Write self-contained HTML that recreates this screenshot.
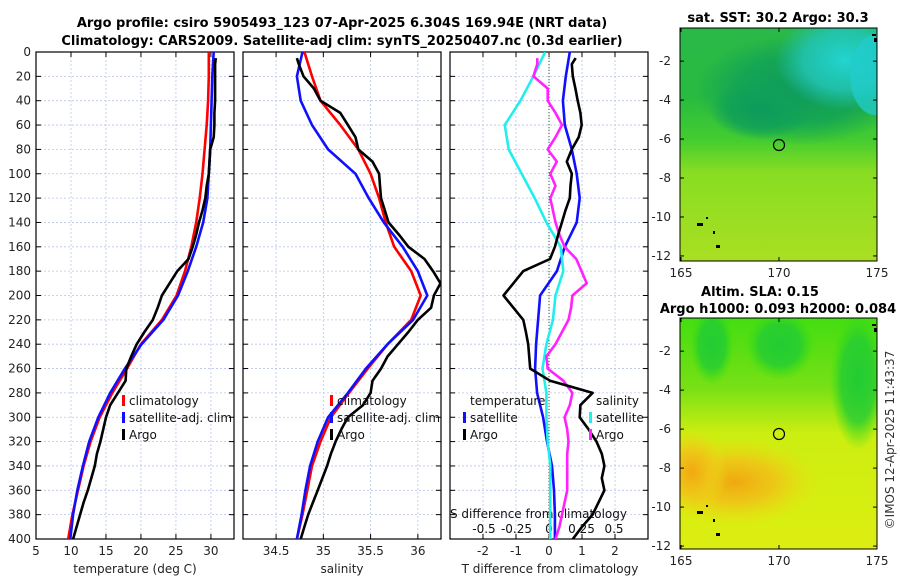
<!DOCTYPE html>
<html><head><meta charset="utf-8">
<style>
html,body{margin:0;padding:0;background:#fff;}
svg{display:block;font-family:"DejaVu Sans","Liberation Sans",sans-serif;}
</style></head>
<body>
<svg id="fig" width="900" height="580" viewBox="0 0 900 580">
<defs>
<linearGradient id="g1" x1="0" y1="0" x2="0" y2="1">
<stop offset="0" stop-color="#2ab848"/><stop offset="0.3" stop-color="#28bb40"/>
<stop offset="0.48" stop-color="#44cc30"/><stop offset="0.62" stop-color="#88dd22"/>
<stop offset="1" stop-color="#aadf22"/></linearGradient>
<radialGradient id="teal" cx="0.5" cy="0.5" r="0.5"><stop offset="0" stop-color="#0e9a5c"/><stop offset="0.6" stop-color="#10a058" stop-opacity="0.8"/><stop offset="1" stop-color="#10a058" stop-opacity="0"/></radialGradient>
<radialGradient id="cyan" cx="0.5" cy="0.5" r="0.5"><stop offset="0" stop-color="#22d4d0"/><stop offset="0.6" stop-color="#22c4b4" stop-opacity="0.85"/><stop offset="1" stop-color="#22c0b0" stop-opacity="0"/></radialGradient>
<linearGradient id="g2" x1="0" y1="0" x2="0" y2="1">
<stop offset="0" stop-color="#44dd11"/><stop offset="0.3" stop-color="#77e015"/>
<stop offset="0.5" stop-color="#ccee11"/><stop offset="1" stop-color="#ddee11"/></linearGradient>
<radialGradient id="orng" cx="0.5" cy="0.5" r="0.5"><stop offset="0" stop-color="#f0a810"/><stop offset="0.5" stop-color="#f0c418" stop-opacity="0.85"/><stop offset="1" stop-color="#e8e010" stop-opacity="0"/></radialGradient>
<radialGradient id="grn" cx="0.5" cy="0.5" r="0.5"><stop offset="0" stop-color="#22cc33"/><stop offset="0.6" stop-color="#22cc33" stop-opacity="0.8"/><stop offset="1" stop-color="#33dd11" stop-opacity="0"/></radialGradient>
<clipPath id="c1"><rect x="36" y="52" width="198" height="487"/></clipPath>
<clipPath id="c2"><rect x="243" y="52" width="198" height="487"/></clipPath>
<clipPath id="c3"><rect x="450" y="52" width="198" height="487"/></clipPath>
<clipPath id="m1"><rect x="680" y="28" width="197" height="233"/></clipPath>
<clipPath id="m2"><rect x="680" y="318" width="197" height="231"/></clipPath>
</defs>
<text x="342" y="27" text-anchor="middle" font-size="13" font-weight="bold">Argo profile: csiro 5905493_123 07-Apr-2025 6.304S 169.94E (NRT data)</text>
<text x="342" y="45" text-anchor="middle" font-size="13" font-weight="bold">Climatology: CARS2009. Satellite-adj clim: synTS_20250407.nc (0.3d earlier)</text>

<g clip-path="url(#m1)">
<rect x="680" y="28" width="197" height="233" fill="url(#g1)"/>
<ellipse cx="800" cy="90" rx="105" ry="55" fill="url(#teal)"/>
<ellipse cx="760" cy="110" rx="50" ry="30" fill="url(#teal)"/>
<ellipse cx="845" cy="60" rx="70" ry="50" fill="url(#cyan)"/>
<ellipse cx="875" cy="75" rx="25" ry="40" fill="#22cccc" opacity="0.75"/>
</g>
<g clip-path="url(#m2)">
<rect x="680" y="318" width="197" height="231" fill="url(#g2)"/>
<ellipse cx="712" cy="345" rx="22" ry="40" fill="url(#grn)"/>
<ellipse cx="780" cy="345" rx="35" ry="35" fill="url(#grn)"/>
<ellipse cx="858" cy="380" rx="28" ry="70" fill="url(#grn)"/>
<ellipse cx="735" cy="482" rx="85" ry="45" fill="url(#orng)"/>
<ellipse cx="692" cy="472" rx="35" ry="45" fill="url(#orng)"/>
</g>
<circle cx="779" cy="145" r="5.5" fill="none" stroke="#000" stroke-width="1.2"/>
<circle cx="779" cy="434" r="5.5" fill="none" stroke="#000" stroke-width="1.2"/>
<text x="778" y="22" text-anchor="middle" font-size="13" font-weight="bold">sat. SST: 30.2 Argo: 30.3</text>
<text x="760" y="296" text-anchor="middle" font-size="13" font-weight="bold">Altim. SLA: 0.15</text>
<text x="778" y="313" text-anchor="middle" font-size="13" font-weight="bold">Argo h1000: 0.093 h2000: 0.084</text>
<text transform="translate(894,440) rotate(-90)" text-anchor="middle" font-size="12" fill="#333">©IMOS 12-Apr-2025 11:43:37</text>
<g id="plots"></g>
</svg>
<script>
// depth levels (m)
const depths = [0,20,40,60,80,100,120,140,160,180,200,220,240,260,280,300,320,340,360,380,400];
// temperature panel
const tempClim = [29.7,29.7,29.6,29.4,29.1,28.8,28.4,27.9,27.2,26.3,25.1,23.0,20.0,18.0,15.9,14.1,12.8,11.8,11.0,10.2,9.6];
const tempSat = [30.4,30.2,30.1,30.0,29.9,29.7,29.5,28.9,27.9,26.7,25.3,23.2,20.1,17.7,15.6,13.9,12.6,11.7,10.9,10.3,9.9];
const argoDepths = [5,10,20,30,40,50,60,70,80,90,100,110,120,130,140,150,160,170,180,190,200,210,220,230,240,250,260,270,280,290,300,310,320,330,340,350,360,370,380,390,400];
const tempArgo = [30.7,30.6,30.6,30.6,30.6,30.5,30.5,30.4,29.9,29.8,29.7,29.4,29.2,28.8,28.3,27.9,27.4,26.8,25.2,24.1,23.0,22.4,21.7,20.5,19.4,18.6,17.9,17.8,16.7,15.6,15.0,14.6,14.2,13.7,13.4,12.9,12.4,11.8,11.3,10.8,10.3];
// salinity panel
const salClim = [34.80,34.88,34.97,35.18,35.37,35.50,35.59,35.66,35.75,35.93,36.03,35.93,35.68,35.47,35.27,35.08,34.97,34.88,34.83,34.78,34.72];
const salSat = [34.78,34.72,34.76,34.88,35.05,35.34,35.48,35.64,35.84,36.00,36.10,35.95,35.68,35.45,35.26,35.05,34.94,34.86,34.81,34.77,34.72];
const salArgo = [34.72,34.74,34.79,34.90,34.97,35.18,35.26,35.34,35.37,35.52,35.59,35.60,35.61,35.65,35.69,35.80,35.90,36.07,36.16,36.24,36.17,36.14,36.00,35.90,35.79,35.68,35.61,35.52,35.50,35.42,35.26,35.19,35.13,35.08,35.04,34.99,34.94,34.89,34.84,34.80,34.76];
// difference panel
const dTsat = [0.63,0.51,0.42,0.48,0.69,0.84,0.93,0.84,0.48,0.24,-0.27,-0.33,-0.39,-0.42,-0.36,-0.18,-0.06,0.09,0.15,0.18,0.18];
const dSsat = [-0.03,-0.12,-0.22,-0.34,-0.31,-0.21,-0.11,-0.02,0.09,0.11,0.05,0.03,-0.02,-0.05,-0.02,-0.02,-0.01,0.01,0.01,0.01,0.01];
const dTargo = [0.81,0.69,0.72,0.80,0.87,0.95,0.99,0.90,0.69,0.54,0.69,0.65,0.63,0.50,0.39,0.28,0.18,0.03,-0.78,-1.08,-1.38,-1.08,-0.78,-0.70,-0.63,-0.60,-0.57,0.03,1.32,0.95,0.93,1.20,1.44,1.60,1.68,1.60,1.68,1.50,1.32,1.00,0.72];
const dSargo = [-0.09,-0.09,-0.12,-0.01,-0.01,0.05,0.10,0.05,-0.01,0.06,0.01,0.05,0.01,0.03,0.05,0.08,0.12,0.21,0.25,0.29,0.18,0.17,0.15,0.10,0.05,-0.02,-0.01,0.11,0.18,0.16,0.12,0.14,0.15,0.14,0.14,0.14,0.14,0.12,0.10,0.08,0.05];
// ticks
const depthTicks = [0,20,40,60,80,100,120,140,160,180,200,220,240,260,280,300,320,340,360,380,400];
const tempTicks = [5,10,15,20,25,30];
const salTicks = [34.5,35,35.5,36];
const salTickLabels = ['34.5','35','35.5','36'];
const dTTicks = [-2,-1,0,1,2];
const dSTicks = [-0.5,-0.25,0,0.25,0.5];
const dSTickLabels = ['-0.5','-0.25','0','0.25','0.5'];
const latTicks = [-2,-4,-6,-8,-10,-12];
const lonTicks = [165,170,175];

const NS='http://www.w3.org/2000/svg';
const root=document.getElementById('plots');
function mk(tag,attrs,parent){const e=document.createElementNS(NS,tag);for(const k in attrs)e.setAttribute(k,attrs[k]);(parent||root).appendChild(e);return e;}
const Y0=52,Y1=539;
function yD(d){return Y0+(d/400)*(Y1-Y0);}
function lin(d0,d1,p0,p1){return v=>p0+(v-d0)/(d1-d0)*(p1-p0);}
const xT=lin(5,33.3,36,234);
const xS=lin(34.15,36.245,243,441);
const xdT=lin(-3,3,450,648);
const xdS=lin(-0.7615,0.7615,450,648);

function panel(x0,name){
  const g=mk('g',{});
  
  
  return g;
}
function gridAndFrame(g,x0,xticks,xf){
  xticks.forEach(t=>{const x=xf(t);const l=mk('line',{x1:x,x2:x,y1:Y0,y2:Y1,stroke:'#b8c4e8','stroke-width':0.8,'stroke-dasharray':'2,2'},g);
    
    
    mk('line',{x1:x,x2:x,y1:Y1,y2:Y1-5,stroke:'#000'},g);mk('line',{x1:x,x2:x,y1:Y0,y2:Y0+5,stroke:'#000'},g);});
  depthTicks.forEach(d=>{const y=yD(d);if(d>0&&d<400){const l=mk('line',{x1:x0,x2:x0+198,y1:y,y2:y,stroke:'#b8c4e8','stroke-width':0.8,'stroke-dasharray':'2,2'},g);
    
    }
    mk('line',{x1:x0,x2:x0+5,y1:y,y2:y,stroke:'#000'},g);mk('line',{x1:x0+198,x2:x0+193,y1:y,y2:y,stroke:'#000'},g);});
  const r=mk('rect',{x:x0,y:Y0,width:198,height:Y1-Y0,fill:'none',stroke:'#000','stroke-width':1.2},g);
  
  
}
function line(g,vals,ds,xf,color,name,clip){
  const pts=vals.map((v,i)=>xf(v).toFixed(1)+','+yD(ds[i]).toFixed(1)).join(' ');
  const p=mk('polyline',{points:pts,fill:'none',stroke:color,'stroke-width':2.6,'stroke-linejoin':'round','clip-path':'url(#'+clip+')'},g);
  
  
}
function txt(g,x,y,s,anchor,name,size,fill){const t=mk('text',{x:x,y:y,'text-anchor':anchor||'start','font-size':size||12,fill:fill||'#222'},g);t.textContent=s;
  
  return t;}
function legend(g,x,y,color,label){
  const m=mk('rect',{x:x,y:y-10,width:3,height:11,fill:color},g);
  
  
  txt(g,x+7,y,label,'start','legend-entry',12,'#111');
}

// Panel 1
const g1=panel(36,'temperature-panel');
gridAndFrame(g1,36,tempTicks,xT);
depthTicks.forEach(d=>txt(g1,31,yD(d)+4,String(d),'end','depth-tick-label',12));
tempTicks.forEach(t=>txt(g1,xT(t),555,String(t),'middle','temperature-tick-label',12));
txt(g1,135,573,'temperature (deg C)','middle','x-axis-title-temperature',12);
line(g1,tempClim,depths,xT,'#ff0000','temperature-climatology-line','c1');
line(g1,tempSat,depths,xT,'#1010ff','temperature-satellite-line','c1');
line(g1,tempArgo,argoDepths,xT,'#000','temperature-argo-line','c1');
legend(g1,122,405,'#ff0000','climatology');
legend(g1,122,422,'#1010ff','satellite-adj. clim');
legend(g1,122,439,'#000','Argo');

// Panel 2
const g2=panel(243,'salinity-panel');
gridAndFrame(g2,243,salTicks,xS);
salTicks.forEach((t,i)=>txt(g2,xS(t),555,salTickLabels[i],'middle','salinity-tick-label',12));
txt(g2,342,573,'salinity','middle','x-axis-title-salinity',12);
line(g2,salClim,depths,xS,'#ff0000','salinity-climatology-line','c2');
line(g2,salSat,depths,xS,'#1010ff','salinity-satellite-line','c2');
line(g2,salArgo,argoDepths,xS,'#000','salinity-argo-line','c2');
legend(g2,330,405,'#ff0000','climatology');
legend(g2,330,422,'#1010ff','satellite-adj. clim');
legend(g2,330,439,'#000','Argo');

// Panel 3
const g3=panel(450,'difference-panel');
gridAndFrame(g3,450,dTTicks,xdT);
const zl=mk('line',{x1:xdT(0),x2:xdT(0),y1:Y0,y2:Y1,stroke:'#335533','stroke-width':1,'stroke-dasharray':'1,2'},g3);


dTTicks.forEach(t=>txt(g3,xdT(t),555,String(t),'middle','t-diff-tick-label',12));
txt(g3,550,573,'T difference from climatology','middle','x-axis-title-t-diff',12);
txt(g3,450,518,'S difference from climatology','start','s-diff-axis-title',12,'#111');
dSTicks.forEach((t,i)=>txt(g3,xdS(t),533,dSTickLabels[i],'middle','s-diff-tick-label',12,'#111'));
line(g3,dTsat,depths,xdT,'#1010ff','t-diff-satellite-line','c3');
line(g3,dSsat,depths,xdS,'#22eeee','s-diff-satellite-line','c3');
line(g3,dSargo,argoDepths,xdS,'#ff22ff','s-diff-argo-line','c3');
line(g3,dTargo,argoDepths,xdT,'#000','t-diff-argo-line','c3');
txt(g3,470,405,'temperature','start','legend-header-temperature',12,'#111');
legend(g3,463,422,'#1010ff','satellite');
legend(g3,463,439,'#000','Argo');
txt(g3,596,405,'salinity','start','legend-header-salinity',12,'#111');
legend(g3,589,422,'#22eeee','satellite');
legend(g3,589,439,'#ff22ff','Argo');

// Maps axes
function mapAxes(top,bot,latTop,latBot,name){
  const g=mk('g',{});
  
  
  const yl=lin(latTop,latBot,top,bot), xl=lin(165,175,681,877);
  mk('rect',{x:680,y:top,width:197,height:bot-top,fill:'none',stroke:'#000','stroke-width':1},g);
  latTicks.forEach(t=>{const y=yl(t);mk('line',{x1:680,x2:684,y1:y,y2:y,stroke:'#000'},g);mk('line',{x1:877,x2:873,y1:y,y2:y,stroke:'#000'},g);
    txt(g,671,y+4,String(t),'end','latitude-tick-label',12);});
  lonTicks.forEach(t=>{const x=xl(t);mk('line',{x1:x,x2:x,y1:bot,y2:bot-4,stroke:'#000'},g);mk('line',{x1:x,x2:x,y1:top,y2:top+4,stroke:'#000'},g);
    txt(g,x,bot+16,String(t),'middle','longitude-tick-label',12);});
  [[872,top+6,4,2],[874,top+10,3,4],[697,bot-38,6,3],[713,bot-30,2,3],[716,bot-16,4,3],[706,bot-44,2,2]].forEach(c=>mk('rect',{x:c[0],y:c[1],width:c[2],height:c[3],fill:'#000'},g));
}
mapAxes(28,261,-0.3,-12.26,'sst-map-axes');
mapAxes(318,549,-0.3,-12.15,'sla-map-axes');
</script>
</body></html>
